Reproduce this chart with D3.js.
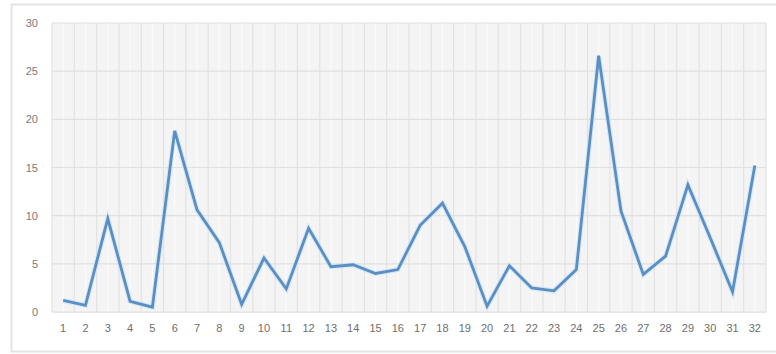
<!DOCTYPE html>
<html>
<head>
<meta charset="utf-8">
<script src="https://cdn.jsdelivr.net/npm/d3@7/dist/d3.min.js"></script>
<style>
  html, body { margin: 0; padding: 0; background: #ffffff; }
  svg { display: block; }
  text { font-family: "Liberation Sans", "DejaVu Sans", sans-serif; }
</style>
</head>
<body>
<svg id="chart" width="776" height="354"></svg>
<script>
// Category labels along the x axis
const categories = ["1","2","3","4","5","6","7","8","9","10","11","12","13","14","15","16",
                    "17","18","19","20","21","22","23","24","25","26","27","28","29","30","31","32"];
// Series values, one per category
const values = [1.2, 0.7, 9.7, 1.1, 0.5, 18.8, 10.6, 7.2, 0.8, 5.6, 2.4, 8.7, 4.7, 4.9, 4.0, 4.4,
                9.0, 11.3, 6.8, 0.6, 4.8, 2.5, 2.2, 4.4, 26.6, 10.5, 3.9, 5.8, 13.2, 7.7, 2.1, 15.2];
// Value-axis tick labels
const yTicks = [0, 5, 10, 15, 20, 25, 30];

const svg = d3.select("#chart");
const W = 776, H = 354;
const plot = { left: 52, right: 766, top: 23, bottom: 312 };

// Chart frame
svg.append("rect")
  .attr("x", 11.5).attr("y", 4.5)
  .attr("width", W - 8).attr("height", H - 7)
  .attr("fill", "#ffffff")
  .attr("stroke", "#e4e4e4").attr("stroke-width", 2);

const x = d3.scaleBand()
  .domain(categories)
  .range([plot.left, plot.right])
  .padding(0);

const y = d3.scaleLinear()
  .domain([0, 30])
  .range([plot.bottom, plot.top]);

// Plot background
svg.append("rect")
  .attr("x", plot.left).attr("y", plot.top)
  .attr("width", plot.right - plot.left).attr("height", plot.bottom - plot.top)
  .attr("fill", "#f4f4f4");

// Vertical grid stripes at category edges and centres
const vLines = [];
categories.forEach(c => {
  vLines.push(x(c));
  vLines.push(x(c) + x.bandwidth() / 2);
});
vLines.push(plot.right);
svg.append("g")
  .selectAll("line")
  .data(vLines)
  .join("line")
  .attr("x1", d => d).attr("x2", d => d)
  .attr("y1", plot.top).attr("y2", plot.bottom)
  .attr("stroke", (d, i) => i % 2 === 0 ? "#e2e2e2" : "#fbfbfb")
  .attr("stroke-width", 1.2);

// Horizontal gridlines
svg.append("g")
  .selectAll("line")
  .data(yTicks)
  .join("line")
  .attr("x1", plot.left).attr("x2", plot.right)
  .attr("y1", d => y(d)).attr("y2", d => y(d))
  .attr("stroke", "#e0e0e0")
  .attr("stroke-width", 1.2);

// Y axis labels
const yAxis = d3.axisLeft(y).tickValues(yTicks).tickSize(0).tickPadding(14);
svg.append("g")
  .attr("transform", `translate(${plot.left},0)`)
  .call(yAxis)
  .call(g => g.select(".domain").remove())
  .call(g => g.selectAll("text")
    .attr("fill", "#7a7a7a")
    .style("font-size", "11px"));

// X axis labels
const xAxis = d3.axisBottom(x).tickSize(0).tickPadding(12);
svg.append("g")
  .attr("transform", `translate(0,${plot.bottom})`)
  .call(xAxis)
  .call(g => g.select(".domain").attr("stroke", "#e6e6e6"))
  .call(g => g.selectAll("text")
    .attr("fill", "#6e6e6e")
    .style("font-size", "11px"));

// Data line
const line = d3.line()
  .x((d, i) => x(categories[i]) + x.bandwidth() / 2)
  .y(d => y(d));

svg.append("path")
  .datum(values)
  .attr("d", line)
  .attr("fill", "none")
  .attr("stroke", "#c9e2f7")
  .attr("stroke-width", 5)
  .attr("stroke-linejoin", "miter")
  .attr("opacity", 0.7);

svg.append("path")
  .datum(values)
  .attr("d", line)
  .attr("fill", "none")
  .attr("stroke", "#5b8fc4")
  .attr("stroke-width", 2.8)
  .attr("stroke-linejoin", "miter");
</script>
</body>
</html>
